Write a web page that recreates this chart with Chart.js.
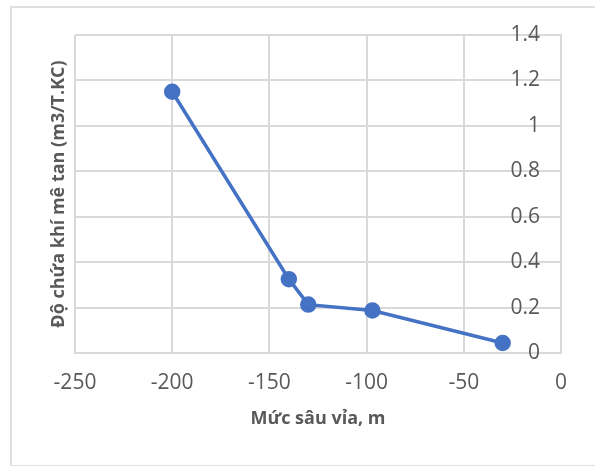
<!DOCTYPE html>
<html>
<head>
<meta charset="utf-8">
<script src="https://cdn.jsdelivr.net/npm/chart.js@4.4.1/dist/chart.umd.min.js"></script>
<style>
  body { margin: 0; background: #fff; }
  .frame { position: absolute; left: 10px; top: 6px; width: 600px; height: 457px; border: 2px solid #e0e0e0; }
  #depthChart { position: absolute; left: 0; top: 0; }
</style>
</head>
<body>
<div class="frame"></div>
<canvas id="depthChart" width="595" height="466"></canvas>
<script>
// depth of the seam (m) and methane content (m3/T.KC)
const depths = [-200, -140, -130, -97, -30];
const methane = [1.15, 0.325, 0.213, 0.187, 0.044];
const xTitle = "Mức sâu vỉa, m";
const yTitle = "Độ chứa khí mê tan (m3/T.KC)";

const grey = "#595959";
const gridGrey = "#d9d9d9";

// vertical title sits on the left while the value axis is on the right
const leftTitle = {
    id: "leftTitle",
    afterDraw(chart) {
        const ctx = chart.ctx;
        const area = chart.chartArea;
        ctx.save();
        ctx.translate(59, (area.top + area.bottom) / 2);
        ctx.rotate(-Math.PI / 2);
        ctx.fillStyle = grey;
        ctx.font = "bold 18px 'Open Sans'";
        ctx.textAlign = "center";
        ctx.textBaseline = "middle";
        ctx.fillText(yTitle, 0, 0);
        ctx.restore();
    }
};

new Chart(document.getElementById("depthChart"), {
    type: "line",
    data: {
        datasets: [{
            data: depths.map((d, i) => ({ x: d, y: methane[i] })),
            borderColor: "#4472C4",
            backgroundColor: "#4472C4",
            borderWidth: 3.5,
            pointRadius: 6.5,
            pointHoverRadius: 6.5,
            tension: 0
        }]
    },
    options: {
        responsive: false,
        animation: false,
        devicePixelRatio: 1,
        layout: { padding: { left: 75, top: 35, right: 0, bottom: 36 } },
        plugins: { legend: { display: false }, tooltip: { enabled: false } },
        scales: {
            x: {
                type: "linear",
                position: "bottom",
                min: -250,
                max: 0,
                ticks: { stepSize: 50, padding: 17, color: grey, font: { family: "'Open Sans'", size: 21 } },
                grid: { color: gridGrey, lineWidth: 2, drawTicks: false },
                border: { color: gridGrey, width: 2 },
                title: { display: true, text: xTitle, color: grey, padding: 0, font: { family: "'Open Sans'", size: 18, weight: "bold" } },
                afterFit(scale) { scale.height = 77; }
            },
            y: {
                position: "right",
                min: 0,
                max: 1.4,
                ticks: {
                    stepSize: 0.2,
                    mirror: true,
                    padding: -21,
                    color: grey,
                    font: { family: "'Open Sans'", size: 21 },
                    callback: v => Math.round(v * 10) / 10
                },
                grid: { color: gridGrey, lineWidth: 2, drawTicks: false },
                border: { color: gridGrey, width: 2 },
                afterFit(scale) { scale.width = 34; }
            }
        }
    },
    plugins: [leftTitle]
});
</script>
</body>
</html>
